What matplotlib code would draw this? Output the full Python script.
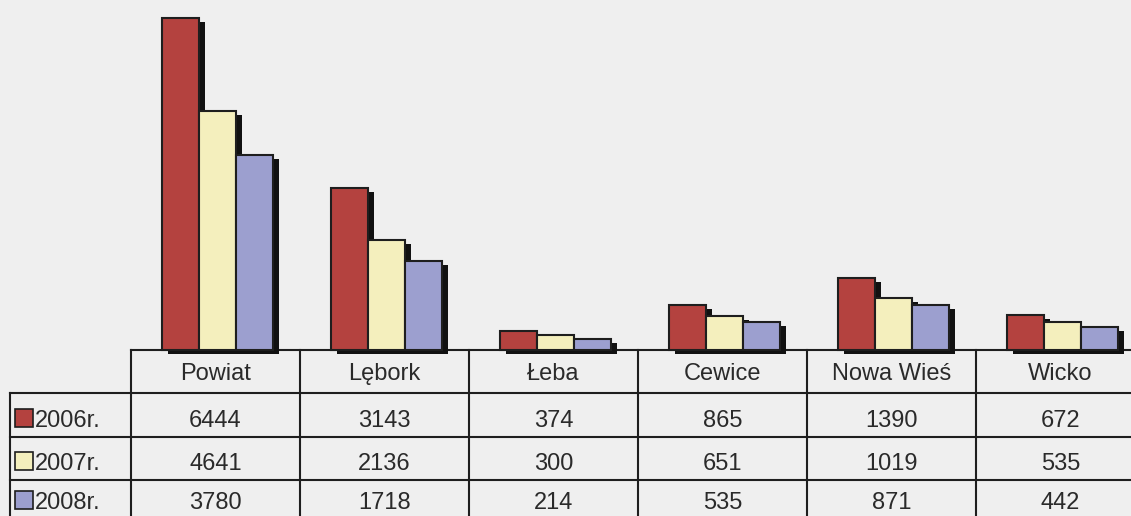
import matplotlib
matplotlib.use("Agg")
import matplotlib.pyplot as plt
from matplotlib.patches import Rectangle
from matplotlib.transforms import offset_copy
import numpy as np

plt.rcParams["font.family"] = ["Liberation Sans", "DejaVu Sans"]

categories = ["Powiat", "Lębork", "Łeba", "Cewice", "Nowa Wieś", "Wicko"]
years = ["2006r.", "2007r.", "2008r."]
v2006 = [6444, 3143, 374, 865, 1390, 672]
v2007 = [4641, 2136, 300, 651, 1019, 535]
v2008 = [3780, 1718, 214, 535, 871, 442]
colors = ["#b4423f", "#f4efbd", "#9c9fcf"]

W, H = 1131, 516
BG = "#efefef"
INK = "#1e1e1e"
TXT = "#2a2a2a"
series = [v2006, v2007, v2008]

fig = plt.figure(figsize=(W / 100, H / 100), dpi=100, facecolor=BG)

# table layer in pixel coordinates (y grows downwards)
tab = fig.add_axes([0, 0, 1, 1])
tab.set_xlim(0, W)
tab.set_ylim(H, 0)
tab.axis("off")

col0, colw = 131, 169
base = 350
row_edges = [350, 393, 437, 480, 523]
header_baseline = 380
row_baselines = [427, 470, 509]
label_left = 10
col_edges = [col0 + i * colw for i in range(len(categories) + 1)]

lw = 1.5
tab.plot([col0, W], [base, base], color=INK, lw=lw)
for y in row_edges[1:-1]:
    tab.plot([label_left, W], [y, y], color=INK, lw=lw)
tab.plot([label_left, label_left], [row_edges[1], H], color=INK, lw=lw)
for x in col_edges:
    tab.plot([x, x], [base, H], color=INK, lw=lw)

fs = 17
for i, cat in enumerate(categories):
    cx = col0 + (i + 0.5) * colw
    tab.text(cx, header_baseline, cat, ha="center", va="baseline",
             fontsize=fs, color=TXT)
    for j, vals in enumerate(series):
        tab.text(cx, row_baselines[j], f"{vals[i]}", ha="center",
                 va="baseline", fontsize=fs, color=TXT)

for j, yr in enumerate(years):
    yb = row_baselines[j]
    tab.add_patch(Rectangle((15, yb - 18), 18, 18, facecolor=colors[j],
                            edgecolor=INK, lw=1.2))
    tab.text(35, yb, yr, ha="left", va="baseline", fontsize=fs, color=TXT)

# bar layer
ax = fig.add_axes([col0 / W, (H - base) / H, len(categories) * colw / W, base / H])
ax.set_facecolor("none")
ax.set_xlim(0, len(categories))
ax.set_ylim(0, 6444 * base / (base - 18))
ax.axis("off")

x = np.arange(len(categories)) + 0.5
bw = 37 / colw
shadow = offset_copy(ax.transData, fig=fig, x=6, y=-4, units="dots")
for j, vals in enumerate(series):
    pos = x + (j - 1) * bw + 2 / colw
    ax.bar(pos, vals, width=bw, color="#111111", transform=shadow,
           zorder=1 + 2 * j, clip_on=False)
    ax.bar(pos, vals, width=bw, color=colors[j], edgecolor=INK, linewidth=1.5,
           zorder=2 + 2 * j, clip_on=False)

fig.savefig("out.png", dpi=100, facecolor=BG)
